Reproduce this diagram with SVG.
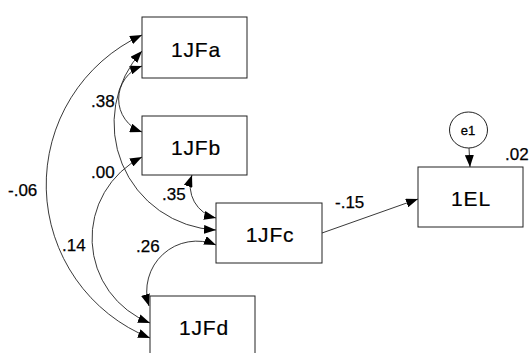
<svg xmlns="http://www.w3.org/2000/svg" width="530" height="353" viewBox="0 0 530 353">
<defs>
<marker id="ah" markerUnits="userSpaceOnUse" markerWidth="12" markerHeight="9" refX="12" refY="4.5" orient="auto-start-reverse">
<path d="M0,0 L12,4.5 L0,9 z" fill="#000"/>
</marker>
<style>
.box{fill:#fff;stroke:#222;stroke-width:1}
.node{font-family:"Liberation Sans",Arial,sans-serif;font-size:21px;letter-spacing:0.8px;fill:#000;stroke:#000;stroke-width:0.2;text-anchor:middle}
.lbl{font-family:"Liberation Sans",Arial,sans-serif;font-size:17px;fill:#000;stroke:#000;stroke-width:0.25}
.small{font-family:"Liberation Sans",Arial,sans-serif;font-size:13px;fill:#000;stroke:#000;stroke-width:0.3;text-anchor:middle}
.con{fill:none;stroke:#222;stroke-width:0.9}
.two{marker-start:url(#ah);marker-end:url(#ah)}
.one{marker-end:url(#ah)}
</style>
</defs>
<rect width="530" height="353" fill="#fff"/>
<g id="connectors">
<path class="con two" d="M142,35 A165,165 0 0 0 150,338"/>
<path class="con two" d="M142,66 A35,35 0 0 0 142,132"/>
<path class="con two" d="M142,51 A107,107 0 0 0 216,230"/>
<path class="con two" d="M142,157 A91,91 0 0 0 150,323"/>
<path class="con two" d="M192,175 A33,33 0 0 0 216,218"/>
<path class="con two" d="M216,245 A50,50 0 0 0 149,306"/>
<path class="con one" d="M322,233 L418,199"/>
<path class="con one" d="M469,148 L470,167"/>
</g>
<g id="labels">
<text class="lbl" x="91" y="107">.38</text>
<text class="lbl" x="91" y="178">.00</text>
<text class="lbl" x="8" y="196">-.06</text>
<text class="lbl" x="62" y="251">.14</text>
<text class="lbl" x="136" y="252">.26</text>
<text class="lbl" x="162" y="200">.35</text>
<text class="lbl" x="335" y="208">-.15</text>
<text class="lbl" x="505" y="160">.02</text>
</g>
<g id="n1JFa"><rect class="box" x="142" y="17" width="105" height="61"/><text class="node" x="196" y="57">1JFa</text></g>
<g id="n1JFb"><rect class="box" x="142" y="116" width="105" height="59"/><text class="node" x="196" y="155">1JFb</text></g>
<g id="n1JFc"><rect class="box" x="216" y="203" width="106" height="60"/><text class="node" x="270" y="242">1JFc</text></g>
<g id="n1JFd"><rect class="box" x="150" y="296" width="105" height="70"/><text class="node" x="204" y="335">1JFd</text></g>
<g id="n1EL"><rect class="box" x="418" y="167" width="105" height="60"/><text class="node" x="471" y="206">1EL</text></g>
<g id="e1"><ellipse class="box" cx="468.5" cy="130" rx="19" ry="18"/><text class="small" x="468" y="135">e1</text></g>
</svg>
